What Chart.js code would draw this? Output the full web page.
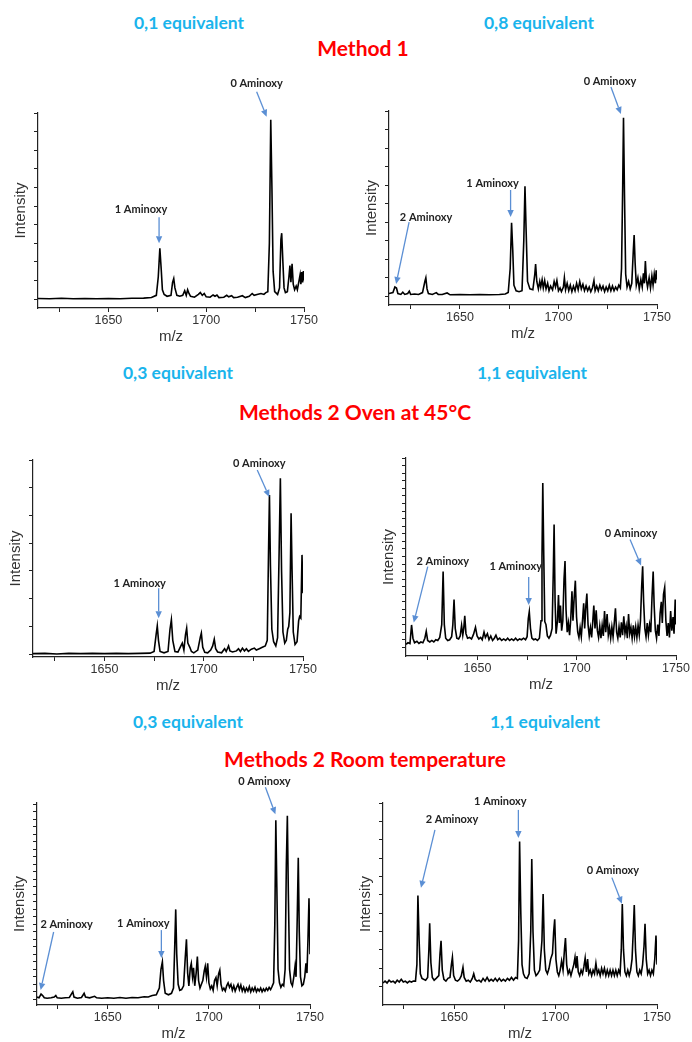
<!DOCTYPE html>
<html>
<head>
<meta charset="utf-8">
<script src="https://cdn.jsdelivr.net/npm/chart.js@4.4.1/dist/chart.umd.min.js"></script>
<style>
  body { margin: 0; background: #fff; width: 692px; height: 1042px; position: relative; overflow: hidden; font-family: Lato, sans-serif; }
  .t { position: absolute; transform: translate(-50%, -50%); white-space: nowrap; font-weight: 700; }
  .eq { color: #1ab4ec; font-size: 17.5px; }
  .m { color: #ff0000; font-size: 21px; }
  .box { position: absolute; }
</style>
</head>
<body>
<div class="t eq" style="left:189px;top:22px">0,1 equivalent</div>
<div class="t eq" style="left:539px;top:22px">0,8 equivalent</div>
<div class="t m" style="left:363px;top:47px">Method 1</div>
<div class="t eq" style="left:178px;top:372px">0,3 equivalent</div>
<div class="t eq" style="left:532px;top:372px">1,1 equivalent</div>
<div class="t m" style="left:355px;top:411px">Methods 2 Oven at 45°C</div>
<div class="t eq" style="left:188px;top:721px">0,3 equivalent</div>
<div class="t eq" style="left:545px;top:721px">1,1 equivalent</div>
<div class="t m" style="left:365px;top:758px">Methods 2 Room temperature</div>

<div class="box" id="b1"><canvas id="c1"></canvas></div>
<div class="box" id="b2"><canvas id="c2"></canvas></div>
<div class="box" id="b3"><canvas id="c3"></canvas></div>
<div class="box" id="b4"><canvas id="c4"></canvas></div>
<div class="box" id="b5"><canvas id="c5"></canvas></div>
<div class="box" id="b6"><canvas id="c6"></canvas></div>

<script>
// m/z axis ticks (labels only every 50)
var mzTicks = [1625, 1650, 1675, 1700, 1725, 1750];
var mzLabels = [1650, 1700, 1750];

// unlabeled intensity ticks
var ticks7 = [0, 1, 2, 3, 4, 5, 6, 7];
var ticks10 = [0, 1, 2, 3, 4, 5, 6, 7, 8, 9, 10];
var ticks25 = [0, 1, 2, 3, 4, 5, 6, 7, 8, 9, 10, 11, 12, 13, 14, 15, 16, 17, 18, 19, 20, 21, 22, 23, 24, 25];
var ticks26 = [0, 1, 2, 3, 4, 5, 6, 7, 8, 9, 10, 11, 12, 13, 14, 15, 16, 17, 18, 19, 20, 21, 22, 23, 24, 25, 26];

// spectra, [m/z, intensity]
var eq01Method1 = [[1614,0.03],[1620,0.02],[1626,0.04],[1632,0.02],[1638,0.03],[1644,0.02],[1650,0.03],[1656,0.02],[1662,0.04],[1668,0.05],[1672,0.08],[1674.5,0.2],[1675.5,1.2],[1676.3,2.73],[1677,1.6],[1677.6,0.5],[1678.5,0.25],[1680,0.15],[1682,0.2],[1682.8,0.9],[1683.4,1.1],[1684,0.6],[1685,0.2],[1686.5,0.15],[1688,0.2],[1689,0.45],[1689.8,0.2],[1690.5,0.5],[1691.2,0.3],[1692,0.15],[1694,0.1],[1696,0.25],[1697,0.35],[1698,0.2],[1699,0.3],[1700,0.12],[1702,0.1],[1703.5,0.22],[1704.5,0.15],[1705.5,0.22],[1706.5,0.08],[1709,0.1],[1710.5,0.2],[1711.5,0.12],[1713,0.18],[1714,0.08],[1716,0.1],[1718.5,0.18],[1720,0.08],[1722,0.15],[1723.5,0.3],[1724.5,0.2],[1726,0.25],[1728,0.3],[1729.5,0.25],[1730.5,0.35],[1731.5,0.4],[1732.3,3],[1733,9.64],[1733.6,6],[1734.2,1.5],[1735,0.4],[1736.5,0.25],[1737.5,0.6],[1738.2,3.2],[1738.6,3.54],[1739.2,2],[1739.8,0.6],[1740.5,0.35],[1741.5,0.4],[1742.3,1.2],[1742.8,1.8],[1743.3,0.9],[1743.9,1.9],[1744.5,0.8],[1745.2,0.5],[1746,0.7],[1746.6,0.5],[1747.3,0.9],[1748,1.3],[1748.4,0.8],[1748.8,1.45],[1749.3,0.9],[1749.7,1.5],[1750,1.0]];

var eq08Method1 = [[1614,0.15],[1616,0.2],[1617,0.5],[1617.8,0.45],[1618.5,0.15],[1620,0.1],[1621,0.22],[1622,0.1],[1623.5,0.15],[1624.3,0.28],[1625,0.1],[1627,0.12],[1629,0.1],[1631,0.2],[1632.2,0.8],[1632.7,1.0],[1633.3,0.4],[1634,0.15],[1636,0.1],[1638,0.2],[1639,0.1],[1641,0.1],[1643.5,0.18],[1645,0.08],[1650,0.1],[1655,0.08],[1660,0.1],[1665,0.08],[1670,0.1],[1673,0.12],[1674.5,0.2],[1675.5,1.5],[1676.2,3.97],[1676.8,2.5],[1677.4,0.6],[1678.5,0.3],[1680,0.25],[1681.5,0.3],[1682.4,3],[1683,5.94],[1683.6,3.5],[1684.3,0.8],[1685.5,0.4],[1687,0.35],[1688,1.2],[1688.4,1.74],[1689,0.8],[1689.8,0.4],[1690.5,0.8],[1691,0.5],[1691.7,0.9],[1692.3,0.45],[1693,0.85],[1693.7,0.4],[1694.5,0.7],[1695.2,0.3],[1696,0.55],[1697,0.35],[1697.8,0.8],[1698.5,0.5],[1699.2,0.85],[1700,0.3],[1700.8,0.45],[1701.5,0.25],[1702.5,0.5],[1703,1.0],[1703.6,0.35],[1704.4,0.7],[1705.2,0.3],[1706,0.6],[1706.8,0.25],[1707.6,0.55],[1708.4,0.3],[1709.2,0.7],[1710,0.35],[1710.8,0.8],[1711.6,0.4],[1712.4,0.65],[1713.2,0.3],[1714,0.55],[1714.8,0.3],[1715.6,0.5],[1716.4,0.25],[1717.2,0.45],[1718,0.85],[1718.6,0.3],[1719.4,0.55],[1720.2,0.3],[1721,0.6],[1721.8,0.35],[1722.6,0.55],[1723.4,0.25],[1724.2,0.5],[1725,0.3],[1725.8,0.6],[1726.6,0.3],[1727.4,0.55],[1728.2,0.3],[1729,0.5],[1729.8,0.35],[1730.6,0.6],[1731.4,0.45],[1732,1.5],[1732.6,6],[1733,9.64],[1733.5,5.5],[1734.1,1.2],[1734.8,0.5],[1735.6,0.8],[1736.4,0.4],[1737.2,0.7],[1738,2.5],[1738.4,3.3],[1738.9,1.8],[1739.5,0.6],[1740.3,1.0],[1741,0.4],[1741.8,0.9],[1742.5,0.5],[1743.1,1.24],[1743.6,0.7],[1744.1,1.9],[1744.6,0.9],[1745.2,0.5],[1746,1.0],[1746.7,0.45],[1747.4,1.1],[1748,0.6],[1748.6,1.2],[1749.2,0.7],[1749.6,1.4],[1750,0.9]];

var eq03Oven = [[1614,0.02],[1620,0.03],[1626,0.01],[1632,0.03],[1638,0.02],[1644,0.03],[1650,0.02],[1656,0.03],[1662,0.02],[1668,0.03],[1673,0.04],[1675,0.1],[1676,0.7],[1676.6,1.02],[1677.2,0.5],[1678,0.1],[1680,0.05],[1682,0.1],[1683,0.9],[1683.7,1.24],[1684.4,0.5],[1685.5,0.1],[1687,0.08],[1688.5,0.3],[1689.2,0.4],[1690,0.15],[1690.8,0.7],[1691.4,0.94],[1692,0.4],[1693,0.25],[1693.8,0.1],[1695,0.05],[1697,0.15],[1698.3,0.62],[1698.8,0.76],[1699.5,0.25],[1700.5,0.07],[1702,0.05],[1703.5,0.15],[1704.5,0.3],[1705.3,0.54],[1706,0.2],[1707,0.08],[1709,0.05],[1710.5,0.2],[1711.3,0.1],[1712.5,0.3],[1713.2,0.12],[1714.5,0.08],[1716.5,0.12],[1717.5,0.2],[1718.5,0.1],[1719.5,0.22],[1720.5,0.12],[1721.5,0.2],[1722.5,0.1],[1724,0.18],[1725.5,0.22],[1726.5,0.15],[1728,0.2],[1729.5,0.25],[1731,0.3],[1732,0.5],[1732.6,3.5],[1733.1,5.74],[1733.6,3.2],[1734.3,0.9],[1735.2,0.45],[1736.3,0.3],[1737.2,0.6],[1738,3.8],[1738.6,6.34],[1739.2,3],[1739.9,0.8],[1740.8,0.4],[1741.6,0.5],[1742.3,0.9],[1742.8,1.0],[1743.4,1.5],[1744,5.08],[1744.5,3],[1745.1,0.8],[1746,0.35],[1747,0.45],[1747.8,1.2],[1748.3,1.36],[1748.9,1.3],[1749.5,3.58],[1750,2.2]];

var eq11Oven = [[1614,0.4],[1615,0.6],[1616,0.5],[1616.8,2.95],[1617.5,1.2],[1618.3,0.6],[1619.5,0.8],[1620.5,0.5],[1621.5,0.7],[1622.5,0.6],[1623.5,1.2],[1624.2,2.1],[1624.9,0.9],[1626,0.7],[1627,0.9],[1628,0.7],[1629,1.0],[1630,0.9],[1631,1.3],[1632,3],[1632.7,10],[1633.3,3],[1634,1.2],[1635,0.9],[1636,1.0],[1637,1.4],[1637.6,3],[1638.2,6.3],[1638.8,2.5],[1639.6,1.2],[1640.5,1.1],[1641.3,1.5],[1642,2.9],[1642.6,1.6],[1643.1,2.5],[1643.6,4.15],[1644.2,1.8],[1645,1.2],[1646,1.3],[1647,1.1],[1648,1.7],[1649,2.65],[1649.8,1.5],[1650.7,1.1],[1651.6,1.3],[1652.4,1.0],[1653.3,2.0],[1654,1.3],[1655,1.8],[1655.8,1.0],[1656.7,1.5],[1657.6,0.9],[1658.5,1.2],[1659.3,1.6],[1660.2,1.0],[1661.2,1.2],[1662.2,0.9],[1663.2,1.1],[1664.2,0.9],[1665.2,1.2],[1666.2,0.9],[1667.2,1.1],[1668.2,0.9],[1669.2,1.2],[1670.2,0.9],[1671.2,1.1],[1672.2,1.0],[1673.2,1.2],[1674.2,1.0],[1675,1.4],[1675.6,3.8],[1676.1,4.7],[1676.7,2.5],[1677.4,1.2],[1678.3,1.0],[1679.2,1.1],[1680.2,0.9],[1681.2,1.2],[1682,3.5],[1682.5,12],[1682.9,21.7],[1683.4,12],[1683.9,3.4],[1684.5,3.0],[1685.2,1.5],[1686,1.2],[1686.8,1.6],[1687.6,2.5],[1688.2,10],[1688.6,16.2],[1689.1,6],[1689.6,1.8],[1690.3,3.5],[1690.8,6.9],[1691.3,3.2],[1691.8,5.5],[1692.4,2.2],[1693,3.5],[1693.6,9],[1694.1,11.4],[1694.6,5],[1695.2,2.0],[1695.8,3.2],[1696.4,1.6],[1697,3.8],[1697.6,7.4],[1698.1,3.5],[1698.7,6.5],[1699.3,8.8],[1699.9,4],[1700.5,2],[1701.1,1.3],[1701.7,2.6],[1702.3,1.4],[1702.9,3.5],[1703.5,5.8],[1704,2.5],[1704.6,5.5],[1705.1,7.1],[1705.7,3],[1706.3,1.5],[1706.9,2.6],[1707.5,1.3],[1708.1,3.5],[1708.6,5.5],[1709.2,2.5],[1709.8,4.9],[1710.4,2.2],[1711,1.3],[1711.6,2.8],[1712.2,1.2],[1712.8,2.9],[1713.4,1.5],[1714,4.8],[1714.6,2],[1715.3,4.4],[1715.9,1.6],[1716.5,2.6],[1717.1,1.2],[1717.7,2.7],[1718.3,1.4],[1718.9,3.2],[1719.5,5.15],[1720.1,2],[1720.7,1.2],[1721.3,2.7],[1721.9,1.3],[1722.5,3.3],[1723.1,1.6],[1723.7,4.1],[1724.3,1.8],[1724.9,2.8],[1725.5,1.2],[1726.1,4.4],[1726.7,1.8],[1727.3,2.6],[1727.9,1.2],[1728.5,2.9],[1729.1,1.4],[1729.7,2.7],[1730.3,1.3],[1730.9,2.9],[1731.5,1.6],[1732.1,3.5],[1732.7,8],[1733.2,10.7],[1733.7,6],[1734.3,2.5],[1734.9,1.4],[1735.5,3.2],[1736.1,1.6],[1736.7,3],[1737.3,2],[1737.9,6.5],[1738.5,10],[1739,5.5],[1739.6,2.2],[1740.2,1.2],[1740.8,3],[1741.4,1.5],[1742,4.5],[1742.6,6.0],[1743.1,3.2],[1743.7,7],[1744.3,7.9],[1744.9,3.5],[1745.5,1.5],[1746.1,3.2],[1746.7,1.3],[1747.3,4.8],[1747.9,2.2],[1748.5,4],[1749,1.8],[1749.6,6.3],[1750,3]];

var eq03Room = [[1615,0.3],[1616,0.2],[1617,0.7],[1617.8,0.5],[1618.6,0.2],[1620,0.15],[1622,0.2],[1623.5,0.3],[1624.3,0.5],[1625,0.2],[1627,0.15],[1629,0.2],[1631,0.25],[1632.2,0.8],[1632.7,1.0],[1633.3,0.3],[1635,0.15],[1637,0.25],[1638.3,0.8],[1639,0.3],[1641,0.2],[1643.5,0.4],[1644.5,0.2],[1647,0.15],[1650,0.2],[1653,0.15],[1656,0.25],[1659,0.15],[1662,0.25],[1665,0.2],[1668,0.35],[1670,0.3],[1672,0.5],[1674,0.6],[1675.5,1.5],[1676.3,4],[1677,5.0],[1677.6,2.5],[1678.4,0.8],[1680,0.6],[1681.5,0.8],[1682.5,1.5],[1683.1,7],[1683.6,12],[1684.1,6],[1684.8,2],[1685.6,1.2],[1686.5,1.3],[1687.5,1.8],[1688.3,5.5],[1688.9,8.0],[1689.5,3.5],[1690.1,1.8],[1690.8,4.2],[1691.3,4.8],[1691.9,3],[1692.4,4.2],[1693,1.8],[1693.7,3.5],[1694.3,5.7],[1694.9,2.5],[1695.6,1.5],[1696.3,2],[1697,2.5],[1697.7,3.8],[1698.2,4.4],[1698.8,3],[1699.4,4.8],[1700,2.2],[1700.7,1.4],[1701.4,1.8],[1702.1,1.2],[1702.8,2.5],[1703.5,2.9],[1704.1,1.8],[1704.8,3.4],[1705.4,3.9],[1706,2],[1706.7,1.2],[1707.4,1.5],[1708.1,1.1],[1708.8,1.8],[1709.5,2.2],[1710.2,1.6],[1710.9,2.0],[1711.6,1.2],[1712.3,1.8],[1713,1.1],[1713.7,1.6],[1714.4,2.0],[1715.1,1.3],[1715.8,1.9],[1716.5,1.1],[1717.2,1.6],[1717.9,1.0],[1718.6,1.5],[1719.3,1.1],[1720,1.7],[1720.7,1.0],[1721.4,1.5],[1722.1,1.1],[1722.8,1.6],[1723.5,1.0],[1724.2,1.4],[1724.9,1.1],[1725.6,1.5],[1726.3,1.0],[1727,1.4],[1727.7,1.1],[1728.4,1.5],[1729.1,1.2],[1729.8,1.6],[1730.5,1.3],[1731.2,1.7],[1732,2.2],[1732.6,10],[1733.1,23.9],[1733.6,15],[1734.2,4],[1734.9,2.2],[1735.6,1.6],[1736.3,2.0],[1737,1.8],[1737.7,4],[1738.3,18],[1738.8,24.5],[1739.3,14],[1739.9,4],[1740.6,2.2],[1741.3,1.8],[1742,3],[1742.6,4.4],[1743.1,3],[1743.7,11],[1744.2,18.9],[1744.7,9],[1745.3,3],[1746,1.8],[1746.7,2.0],[1747.4,3.0],[1748,4.8],[1748.5,3.5],[1749,8],[1749.5,13.5],[1750,6]];

var eq11Room = [[1615,0.2],[1616,0.3],[1617,0.2],[1618,0.35],[1619,0.25],[1620,0.3],[1621,0.2],[1622,0.35],[1623,0.25],[1624,0.4],[1625,0.25],[1626,0.3],[1627,0.2],[1628,0.3],[1629,0.25],[1630,0.3],[1631,0.3],[1631.7,1.2],[1632.2,4.96],[1632.8,2.5],[1633.4,0.7],[1634.2,0.45],[1635,0.4],[1636,0.35],[1637,0.5],[1637.6,2],[1638,3.45],[1638.6,1.3],[1639.3,0.5],[1640.2,0.35],[1641.2,0.45],[1642.5,0.6],[1643.1,1.8],[1643.6,2.5],[1644.2,0.9],[1645,0.4],[1646,0.3],[1647,0.45],[1648,0.5],[1648.7,1.2],[1649.2,1.6],[1649.8,0.6],[1650.7,0.35],[1651.7,0.3],[1652.7,0.4],[1653.6,0.6],[1654.4,1.05],[1655,0.5],[1656,0.3],[1657,0.35],[1658,0.25],[1659,0.45],[1659.7,0.7],[1660.4,0.4],[1661.3,0.3],[1662.3,0.35],[1663.3,0.25],[1664.3,0.45],[1665.3,0.3],[1666.3,0.5],[1667.3,0.3],[1668.3,0.4],[1669.3,0.3],[1670.3,0.45],[1671.3,0.3],[1672.3,0.45],[1673.3,0.3],[1674.3,0.4],[1675.3,0.3],[1676.3,0.45],[1677.3,0.35],[1678.3,0.5],[1679.3,0.35],[1680.3,0.5],[1681.2,0.45],[1681.8,2.5],[1682.3,7.9],[1682.9,4],[1683.5,1.2],[1684.2,0.7],[1685,0.5],[1686,0.45],[1687,0.7],[1687.8,3],[1688.3,6.95],[1688.9,3],[1689.6,0.9],[1690.4,0.6],[1691.2,0.7],[1692.2,0.9],[1693.3,2.5],[1693.9,5.05],[1694.5,2],[1695.2,0.9],[1696,0.7],[1696.8,1.0],[1697.6,1.5],[1698.5,1.8],[1699.1,3],[1699.6,3.67],[1700.2,1.5],[1700.9,0.8],[1701.6,0.6],[1702.3,0.9],[1703,1.4],[1703.7,0.9],[1704.4,2],[1704.9,2.64],[1705.5,1.2],[1706.2,0.7],[1706.9,0.9],[1707.6,0.6],[1708.3,0.9],[1709,1.2],[1709.6,1.6],[1710.1,1.0],[1710.6,1.67],[1711.2,0.8],[1711.9,0.6],[1712.6,0.9],[1713.3,0.7],[1714,1.1],[1714.6,1.55],[1715.2,0.8],[1715.8,1.5],[1716.4,0.7],[1717.1,0.9],[1717.8,0.6],[1718.5,0.9],[1719.2,0.7],[1719.9,1.27],[1720.6,0.7],[1721.3,0.9],[1722,0.6],[1722.7,1.0],[1723.4,0.7],[1724.1,1.0],[1724.8,0.6],[1725.5,0.9],[1726.2,0.6],[1726.9,0.9],[1727.6,0.6],[1728.3,0.9],[1729,0.6],[1729.7,0.9],[1730.4,0.6],[1731.1,0.9],[1731.8,0.7],[1732.4,2],[1732.9,4.5],[1733.5,2],[1734.2,0.8],[1734.9,0.6],[1735.6,0.9],[1736.3,0.6],[1737,0.9],[1737.7,1.5],[1738.3,3],[1738.8,4.45],[1739.4,2],[1740.1,0.8],[1740.8,0.6],[1741.5,0.9],[1742.2,0.7],[1742.9,1.2],[1743.6,2.2],[1744.1,3.42],[1744.7,1.5],[1745.4,0.7],[1746.1,0.9],[1746.8,0.6],[1747.5,0.9],[1748.2,0.7],[1748.9,1.5],[1749.5,2.78],[1750,1.2]];

// arrow tip at (mz, y); tail and label offsets in px from the tip
var notes1 = [
  { text: "1 Aminoxy", mz: 1675.9, y: 3.0, dx: 0, dy: -26, lx: -18, ly: -34 },
  { text: "0 Aminoxy", mz: 1730.9, y: 9.8, dx: -10, dy: -25, lx: -10, ly: -33 }
];
var notes2 = [
  { text: "2 Aminoxy", mz: 1617.6, y: 0.66, dx: 13, dy: -62, lx: 30, ly: -67 },
  { text: "1 Aminoxy", mz: 1675.7, y: 4.28, dx: 0, dy: -27, lx: -18, ly: -34 },
  { text: "0 Aminoxy", mz: 1731.7, y: 9.84, dx: -10, dy: -27, lx: -11, ly: -33 }
];
var notes3 = [
  { text: "1 Aminoxy", mz: 1677.3, y: 1.3, dx: 0, dy: -30, lx: -19, ly: -35 },
  { text: "0 Aminoxy", mz: 1733, y: 5.67, dx: -12, dy: -27, lx: -10, ly: -33 }
];
var notes4 = [
  { text: "2 Aminoxy", mz: 1617.9, y: 3.26, dx: 14, dy: -56, lx: 29, ly: -61 },
  { text: "1 Aminoxy", mz: 1675.8, y: 5.6, dx: 0, dy: -28, lx: -13, ly: -38 },
  { text: "0 Aminoxy", mz: 1732.4, y: 10.8, dx: -11, dy: -26, lx: -10, ly: -32 }
];
var notes5 = [
  { text: "2 Aminoxy", mz: 1616.8, y: 1.24, dx: 13, dy: -58, lx: 26, ly: -66 },
  { text: "1 Aminoxy", mz: 1676.5, y: 5.5, dx: 0, dy: -28, lx: -18, ly: -35 },
  { text: "0 Aminoxy", mz: 1732.9, y: 24.7, dx: -10, dy: -27, lx: -11, ly: -33 }
];
var notes6 = [
  { text: "2 Aminoxy", mz: 1633.7, y: 5.38, dx: 14, dy: -58, lx: 31, ly: -68 },
  { text: "1 Aminoxy", mz: 1681.7, y: 8.1, dx: 0, dy: -28, lx: -18, ly: -36 },
  { text: "0 Aminoxy", mz: 1732.7, y: 4.52, dx: -10, dy: -26, lx: -9, ly: -33 }
];

// chart areas on the page (left, top, right, bottom)
var panels = [
  { id: "1", spec: eq01Method1, notes: notes1, xMin: 1614, xMax: 1750, yMin: -0.48, yMax: 10, yTicks: ticks10, L: 38, T: 113, R: 304, B: 308 },
  { id: "2", spec: eq08Method1, notes: notes2, xMin: 1614, xMax: 1750, yMin: -0.47, yMax: 10, yTicks: ticks10, L: 389, T: 111, R: 657, B: 305 },
  { id: "3", spec: eq03Oven, notes: notes3, xMin: 1614, xMax: 1750, yMin: -0.1, yMax: 7, yTicks: ticks7, L: 33, T: 460, R: 303, B: 657 },
  { id: "4", spec: eq11Oven, notes: notes4, xMin: 1614, xMax: 1750, yMin: -1.15, yMax: 25, yTicks: ticks25, L: 406, T: 458, R: 676, B: 656 },
  { id: "5", spec: eq03Room, notes: notes5, xMin: 1615, xMax: 1750, yMin: -0.76, yMax: 26.2, yTicks: ticks26, L: 37, T: 803, R: 310, B: 1005 },
  { id: "6", spec: eq11Room, notes: notes6, xMin: 1615, xMax: 1750, yMin: -1, yMax: 10, yTicks: ticks10, L: 383, T: 803, R: 657, B: 1005 }
];

var yAxisW = 34, xAxisH = 40, padTop = 45, padRight = 20;
var arrowColor = "#5b8fd4";

function arrowPlugin(notes) {
  return {
    id: "aminoxyArrows",
    afterDatasetsDraw: function (chart) {
      var ctx = chart.ctx, xs = chart.scales.x, ys = chart.scales.y;
      ctx.save();
      notes.forEach(function (a) {
        var tx = xs.getPixelForValue(a.mz), ty = ys.getPixelForValue(a.y);
        var sx = tx + a.dx, sy = ty + a.dy;
        var ang = Math.atan2(ty - sy, tx - sx);
        var hl = 7, hw = 3.2;
        var bx = tx - hl * Math.cos(ang), by = ty - hl * Math.sin(ang);
        ctx.strokeStyle = arrowColor;
        ctx.lineWidth = 1.3;
        ctx.beginPath();
        ctx.moveTo(sx, sy);
        ctx.lineTo(bx, by);
        ctx.stroke();
        ctx.fillStyle = arrowColor;
        ctx.beginPath();
        ctx.moveTo(tx, ty);
        ctx.lineTo(bx + hw * Math.sin(ang), by - hw * Math.cos(ang));
        ctx.lineTo(bx - hw * Math.sin(ang), by + hw * Math.cos(ang));
        ctx.closePath();
        ctx.fill();
        ctx.fillStyle = "#222";
        ctx.font = "bold 11px Lato";
        ctx.textAlign = "center";
        ctx.textBaseline = "middle";
        ctx.fillText(a.text, tx + a.lx, ty + a.ly);
      });
      ctx.restore();
    }
  };
}

panels.forEach(function (p) {
  var box = document.getElementById("b" + p.id);
  box.style.left = (p.L - yAxisW) + "px";
  box.style.top = (p.T - padTop) + "px";
  box.style.width = (p.R - p.L + yAxisW + padRight) + "px";
  box.style.height = (p.B - p.T + padTop + xAxisH) + "px";

  new Chart(document.getElementById("c" + p.id), {
    type: "scatter",
    data: {
      datasets: [{
        data: p.spec.map(function (d) { return { x: d[0], y: d[1] }; }),
        showLine: true,
        borderColor: "#000",
        borderWidth: 1.6,
        pointRadius: 0,
        tension: 0
      }]
    },
    options: {
      responsive: true,
      maintainAspectRatio: false,
      animation: false,
      layout: { padding: { top: padTop, right: padRight, left: 0, bottom: 0 } },
      plugins: { legend: { display: false }, tooltip: { enabled: false } },
      scales: {
        x: {
          type: "linear",
          min: p.xMin,
          max: p.xMax,
          afterBuildTicks: function (s) { s.ticks = mzTicks.map(function (v) { return { value: v }; }); },
          afterFit: function (s) { s.height = xAxisH; },
          grid: { drawOnChartArea: false, drawTicks: true, tickLength: 4, color: "#222" },
          border: { color: "#222", width: 1.2 },
          ticks: {
            autoSkip: false, maxRotation: 0, padding: 1, color: "#333",
            font: { family: "Liberation Sans", size: 12.5 },
            callback: function (v) { return mzLabels.indexOf(v) >= 0 ? String(v) : ""; }
          },
          title: { display: true, text: "m/z", color: "#333", font: { family: "Liberation Sans", size: 15 }, padding: { top: 0, bottom: 2 } }
        },
        y: {
          type: "linear",
          min: p.yMin,
          max: p.yMax,
          afterBuildTicks: function (s) { s.ticks = p.yTicks.map(function (v) { return { value: v }; }); },
          afterFit: function (s) { s.width = yAxisW; },
          grid: { drawOnChartArea: false, drawTicks: true, tickLength: 4, color: "#222" },
          border: { color: "#222", width: 1.2 },
          ticks: { display: false },
          title: { display: true, text: "Intensity", color: "#333", font: { family: "Liberation Sans", size: 15 }, padding: { top: 8, bottom: 0 } }
        }
      }
    },
    plugins: [arrowPlugin(p.notes)]
  });
});
</script>
</body>
</html>
